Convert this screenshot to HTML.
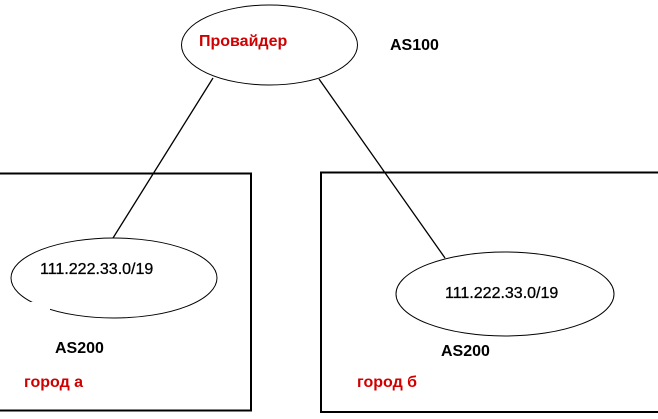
<!DOCTYPE html>
<html><head><meta charset="utf-8"><style>html,body{margin:0;padding:0;background:#fff}svg{display:block}</style></head>
<body>
<svg width="658" height="419" viewBox="0 0 658 419" xmlns="http://www.w3.org/2000/svg" font-family="Liberation Sans, Arial, sans-serif">
<rect width="658" height="419" fill="#fff"/>
<path d="M0 173.5 H251 V410.5 H0" fill="none" stroke="#000" stroke-width="2"/>
<path d="M658 172.5 H321 V412 H658" fill="none" stroke="#000" stroke-width="2"/>
<ellipse cx="269.5" cy="45" rx="88" ry="40" fill="#fff" stroke="#000" stroke-width="1"/>
<ellipse cx="114" cy="278" rx="103" ry="40" fill="none" stroke="#000" stroke-width="1"/>
<rect x="30" y="302" width="20" height="14" fill="#fff"/>
<ellipse cx="505" cy="294" rx="109" ry="42" fill="none" stroke="#000" stroke-width="1"/>
<line x1="213" y1="78" x2="113" y2="238" stroke="#000" stroke-width="1.3"/>
<line x1="319" y1="79" x2="445" y2="258" stroke="#000" stroke-width="1.3"/>
<g font-size="16" font-weight="bold">
<text x="199" y="46" fill="#d00000">Провайдер</text>
<text x="390" y="50" fill="#000">AS100</text>
<text x="55" y="353" fill="#000">AS200</text>
<text x="441" y="356" fill="#000">AS200</text>
<text x="24" y="387" fill="#d00000">город а</text>
<text x="357" y="387" fill="#d00000">город б</text>
</g>
<g font-size="16" stroke="#000" stroke-width="0.3">
<text x="40" y="274">111.222.33.0/19</text>
<text x="445" y="298">111.222.33.0/19</text>
</g>
</svg>
</body></html>
